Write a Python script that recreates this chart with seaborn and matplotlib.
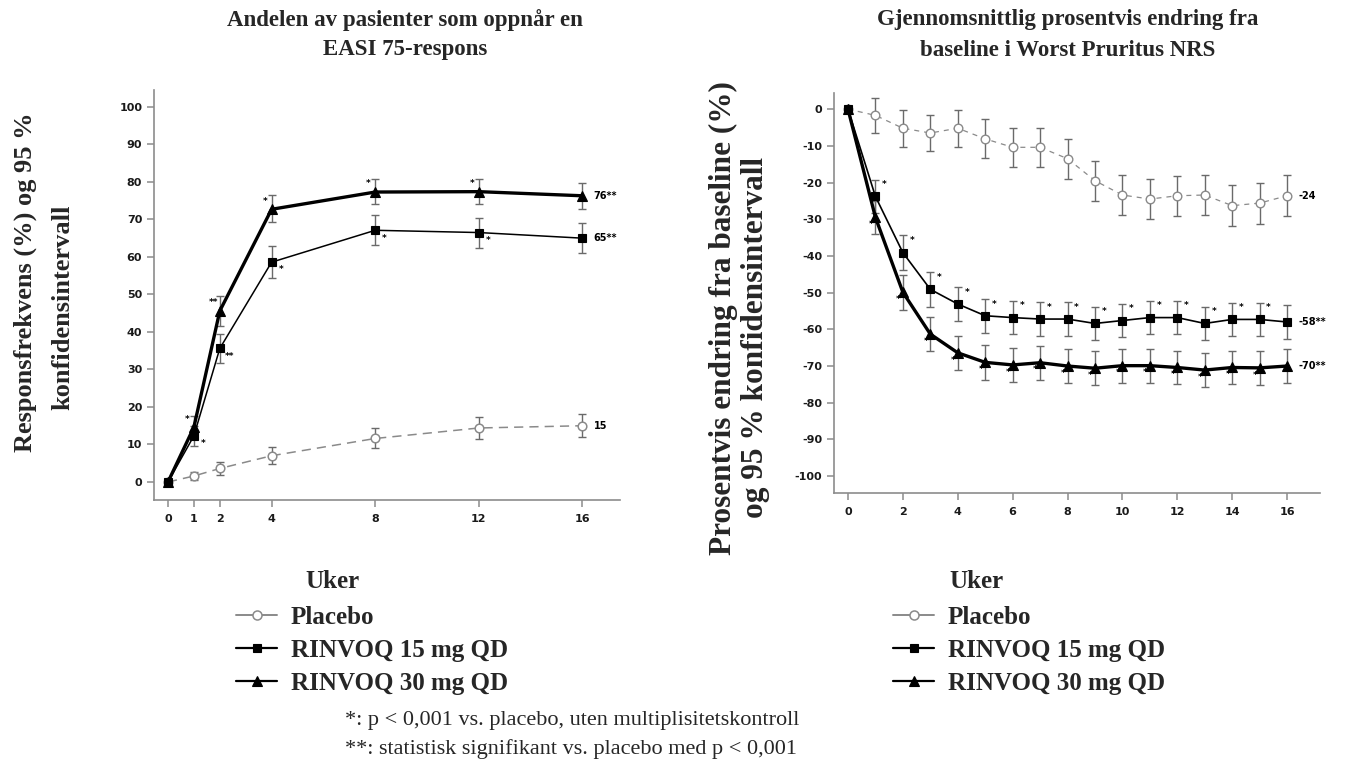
import numpy as np
import pandas as pd
import seaborn as sns
import matplotlib
matplotlib.use("Agg")
import matplotlib.pyplot as plt
from matplotlib.lines import Line2D

# ---------------- data ----------------
easi_weeks = [0, 1, 2, 4, 8, 12, 16]
easi_placebo = [0, 1.6, 3.6, 7.0, 11.6, 14.4, 15.0]
easi_placebo_lo = [0, 0.6, 1.9, 4.8, 9.0, 11.4, 12.0]
easi_placebo_hi = [0, 2.6, 5.2, 9.2, 14.3, 17.2, 18.0]
easi_15 = [0, 12.3, 35.6, 58.6, 67.1, 66.5, 65.0]
easi_15_lo = [0, 9.6, 31.8, 54.3, 63.2, 62.5, 61.0]
easi_15_hi = [0, 14.8, 39.5, 62.8, 71.2, 70.5, 69.0]
easi_30 = [0, 14.6, 45.6, 72.7, 77.3, 77.4, 76.3]
easi_30_lo = [0, 12.0, 41.6, 69.2, 74.1, 74.0, 72.8]
easi_30_hi = [0, 17.6, 49.6, 76.5, 80.8, 80.8, 79.8]
easi_stars_15 = ["", "*", "**", "*", "*", "*", ""]
easi_stars_30 = ["", "*", "**", "*", "*", "*", ""]
easi_end_labels = ["15", "65**", "76**"]

nrs_weeks = list(range(17))
nrs_placebo = [0, -1.7, -5.2, -6.5, -5.2, -8.1, -10.4, -10.4, -13.5, -19.5,
               -23.4, -24.5, -23.6, -23.4, -26.3, -25.6, -23.6]
nrs_placebo_ci = [0, 4.7, 5.0, 5.0, 5.0, 5.3, 5.3, 5.3, 5.5, 5.5,
                  5.5, 5.5, 5.5, 5.5, 5.6, 5.6, 5.6]
nrs_15 = [0, -23.8, -39.1, -49.1, -53.1, -56.3, -56.8, -57.2, -57.2, -58.4,
          -57.6, -56.8, -56.8, -58.4, -57.3, -57.3, -58.0]
nrs_15_ci = [0, 4.6, 4.7, 4.7, 4.6, 4.6, 4.6, 4.6, 4.6, 4.6,
             4.6, 4.6, 4.6, 4.6, 4.6, 4.6, 4.6]
nrs_30 = [0, -29.5, -49.9, -61.3, -66.4, -69.0, -69.7, -69.1, -70.0, -70.6,
          -69.9, -69.9, -70.4, -71.1, -70.4, -70.5, -70.0]
nrs_30_ci = [0, 4.5, 4.7, 4.6, 4.6, 4.7, 4.6, 4.6, 4.6, 4.6,
             4.6, 4.6, 4.6, 4.6, 4.6, 4.6, 4.6]
nrs_stars = [""] + ["*"] * 15 + [""]
nrs_end_labels = ["-24", "-58**", "-70**"]

series_names = ["Placebo", "RINVOQ 15 mg QD", "RINVOQ 30 mg QD"]
left_title = ["Andelen av pasienter som oppnår en", "EASI 75-respons"]
right_title = ["Gjennomsnittlig prosentvis endring fra", "baseline i Worst Pruritus NRS"]
left_ylabel = ["Responsfrekvens (%) og 95 %", "konfidensintervall"]
right_ylabel = ["Prosentvis endring fra baseline (%)", "og 95 % konfidensintervall"]
xlabel = "Uker"
footnotes = ["*: p < 0,001 vs. placebo, uten multiplisitetskontroll",
             "**: statistisk signifikant vs. placebo med p < 0,001"]

# ---------------- style ----------------
sns.set_style("ticks")
plt.rcParams["font.family"] = ["DejaVu Sans"]
plt.rcParams["axes.unicode_minus"] = False

W, H = 1352, 770
fig = plt.figure(figsize=(W / 100, H / 100), dpi=100)

def px_ax(l, t, r, b):
    return fig.add_axes([l / W, 1 - b / H, (r - l) / W, (b - t) / H])

axL = px_ax(154, 90, 620, 500)
axR = px_ax(834, 93, 1320, 493)

GRAY = "#8a8a8a"
ERR = "#6a6a6a"
styles_left = [
    dict(color=GRAY, lw=1.1, ls=(0, (6, 4)), marker="o", mfc="white", mec=GRAY,
         ms=6.2, mew=1.1),
    dict(color="black", lw=1.1, ls="-", marker="s", mfc="black", mec="black",
         ms=5.4, mew=0.8),
    dict(color="black", lw=2.4, ls="-", marker="^", mfc="black", mec="black",
         ms=6.5, mew=0.8),
]
styles_right = [
    dict(color=GRAY, lw=0.9, ls=(0, (4, 4)), marker="o", mfc="white", mec=GRAY,
         ms=6.2, mew=1.0),
    dict(color="black", lw=1.2, ls="-", marker="s", mfc="black", mec="black",
         ms=5.4, mew=0.8),
    dict(color="black", lw=2.4, ls="-", marker="^", mfc="black", mec="black",
         ms=6.5, mew=0.8),
]

def draw_series(ax, x, y, lo, hi, st, name, cap):
    df = pd.DataFrame({"x": x, "y": y})
    ax.errorbar(x, y, yerr=[np.array(y) - np.array(lo), np.array(hi) - np.array(y)],
                fmt="none", ecolor=ERR, elinewidth=1.0, capsize=cap, capthick=1.0,
                zorder=2)
    sns.lineplot(data=df, x="x", y="y", ax=ax, color=st["color"], linewidth=st["lw"],
                 linestyle=st["ls"], marker=st["marker"], markerfacecolor=st["mfc"],
                 markeredgecolor=st["mec"], markersize=st["ms"], markeredgewidth=st["mew"],
                 zorder=3, label=name, legend=False)

# left panel
left_data = [
    (easi_placebo, easi_placebo_lo, easi_placebo_hi),
    (easi_15, easi_15_lo, easi_15_hi),
    (easi_30, easi_30_lo, easi_30_hi),
]
for (y, lo, hi), st, nm in zip(left_data, styles_left, series_names):
    draw_series(axL, easi_weeks, y, lo, hi, st, nm, 2.6)

# right panel
right_data = []
for y, ci in [(nrs_placebo, nrs_placebo_ci), (nrs_15, nrs_15_ci), (nrs_30, nrs_30_ci)]:
    y = np.array(y); ci = np.array(ci)
    right_data.append((y, y - ci, y + ci))
for (y, lo, hi), st, nm in zip(right_data, styles_right, series_names):
    draw_series(axR, nrs_weeks, y, lo, hi, st, nm, 2.9)

# stars
star_kw = dict(textcoords="offset points", fontsize=6.5, fontweight="bold",
               ha="center", va="center", color="black", zorder=5)
for x, y, s in zip(easi_weeks, easi_15, easi_stars_15):
    if s:
        axL.annotate(s, (x, y), xytext=(6.8, -5.6), **star_kw)
for x, y, s in zip(easi_weeks, easi_30, easi_stars_30):
    if s:
        axL.annotate(s, (x, y), xytext=(-4.8, 5.8), **star_kw)
for x, y, s in zip(nrs_weeks, nrs_15, nrs_stars):
    if s:
        axR.annotate(s, (x, y), xytext=(6.5, 8.4), **star_kw)
for x, y, s in zip(nrs_weeks, nrs_30, nrs_stars):
    if s:
        axR.annotate(s, (x, y), xytext=(-3.2, -5.2), **star_kw)

# end labels
end_kw = dict(textcoords="offset points", fontsize=7, fontweight="bold",
              ha="left", va="center", color="black")
for (y, _, _), lab in zip(left_data, easi_end_labels):
    axL.annotate(lab, (easi_weeks[-1], y[-1]), xytext=(8, 0), **end_kw)
for (y, _, _), lab in zip(right_data, nrs_end_labels):
    axR.annotate(lab, (nrs_weeks[-1], y[-1]), xytext=(8, 0), **end_kw)

# axes formatting
axL.set_xlim(-0.54, 17.45)
axL.set_ylim(-4.8, 104.5)
axL.set_xticks(easi_weeks)
axL.set_yticks(range(0, 101, 10))
axR.set_xlim(-0.51, 17.2)
axR.set_ylim(-104.6, 4.4)
axR.set_xticks(range(0, 17, 2))
axR.set_yticks(range(0, -101, -10))
for ax in (axL, axR):
    sns.despine(ax=ax)
    for sp in ("left", "bottom"):
        ax.spines[sp].set_color("#8c8c8c")
        ax.spines[sp].set_linewidth(1.2)
    ax.tick_params(axis="both", colors="#8c8c8c", length=5, width=1.1,
                   labelcolor="#1a1a1a", labelsize=8)
    ax.tick_params(axis="x", pad=5)
    for lab in ax.get_xticklabels() + ax.get_yticklabels():
        lab.set_fontweight("bold")
    ax.set_xlabel("")
    ax.set_ylabel("")

# text
serif = ["Liberation Serif", "DejaVu Serif"]
def ftext(x, y, s, **kw):
    fig.text(x / W, 1 - y / H, s, family=serif, **kw)

ftext(405, 20, left_title[0], fontsize=16.5, fontweight="bold", ha="center", va="center")
ftext(405, 50, left_title[1], fontsize=16.5, fontweight="bold", ha="center", va="center")
ftext(1068, 20, right_title[0], fontsize=16.5, fontweight="bold", ha="center", va="center")
ftext(1068, 50, right_title[1], fontsize=16.5, fontweight="bold", ha="center", va="center")

ftext(25, 282, left_ylabel[0], fontsize=19, fontweight="bold", ha="center", va="center", rotation=90)
ftext(63, 307, left_ylabel[1], fontsize=19, fontweight="bold", ha="center", va="center", rotation=90)
ftext(723, 318, right_ylabel[0], fontsize=22.5, fontweight="bold", ha="center", va="center", rotation=90)
ftext(755, 337, right_ylabel[1], fontsize=22.5, fontweight="bold", ha="center", va="center", rotation=90)

ftext(332, 582, xlabel, fontsize=18, fontweight="bold", ha="center", va="center")
ftext(976, 582, xlabel, fontsize=18, fontweight="bold", ha="center", va="center")

ftext(345, 720, footnotes[0], fontsize=16, ha="left", va="center")
ftext(345, 749, footnotes[1], fontsize=16, ha="left", va="center")

# legends
def make_handles():
    hs = []
    for st in styles_left:
        hs.append(Line2D([], [], color=st["color"], lw=1.6 if st["color"] == "black" else 1.4,
                         ls="-", marker=st["marker"], mfc=st["mfc"], mec=st["mec"],
                         ms=st["ms"] + 0.3, mew=st["mew"]))
    return hs

leg_kw = dict(frameon=False, prop=dict(family=serif, weight="bold", size=18),
              handlelength=1.65, handletextpad=0.55, labelspacing=0.40,
              borderpad=0, borderaxespad=0, loc="upper left")
fig.legend(make_handles(), series_names, bbox_to_anchor=(236 / W, 1 - 606 / H), **leg_kw)
fig.legend(make_handles(), series_names, bbox_to_anchor=(893 / W, 1 - 606 / H), **leg_kw)

fig.savefig("out.png", dpi=100)
